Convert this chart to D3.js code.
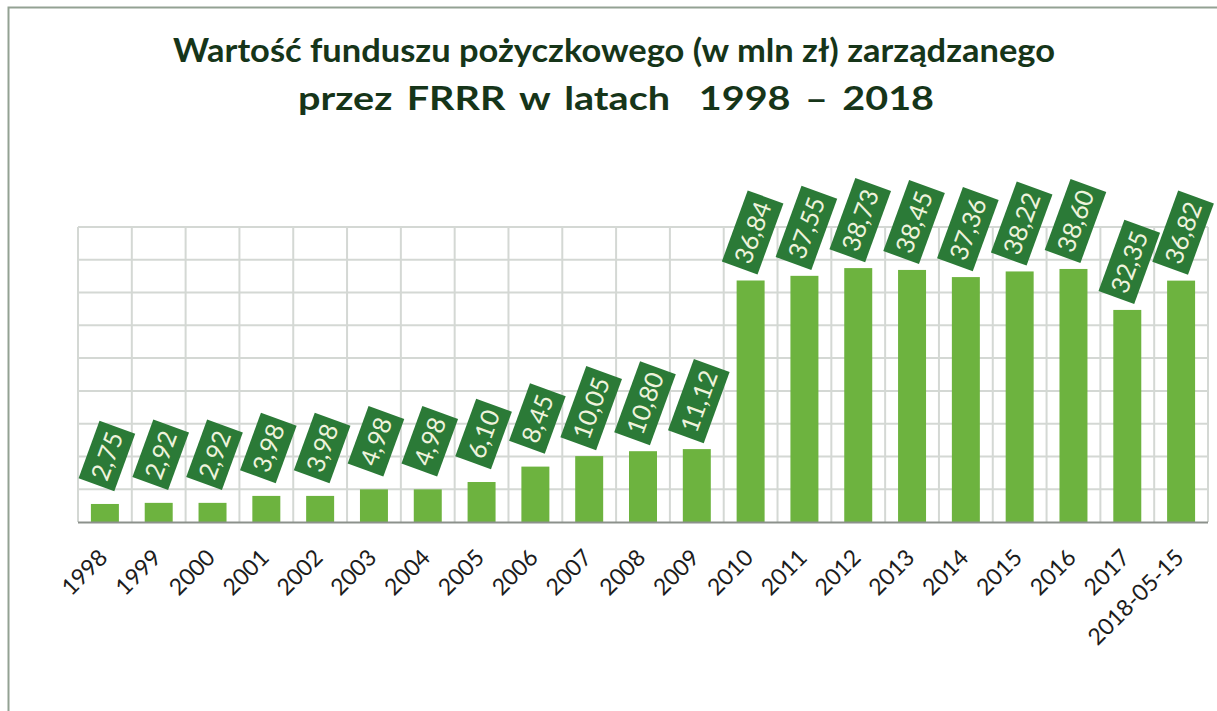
<!DOCTYPE html>
<html>
<head>
<meta charset="utf-8">
<script src="https://cdn.jsdelivr.net/npm/d3@7"></script>
<style>
  body { margin: 0; background: #fff; }
  svg { display: block; }
</style>
</head>
<body>
<svg id="chart"></svg>
<script>
// data
var categories = ["1998", "1999", "2000", "2001", "2002", "2003", "2004", "2005", "2006", "2007",
    "2008", "2009", "2010", "2011", "2012", "2013", "2014", "2015", "2016", "2017", "2018-05-15"];
var values = [2.75, 2.92, 2.92, 3.98, 3.98, 4.98, 4.98, 6.10, 8.45, 10.05,
    10.80, 11.12, 36.84, 37.55, 38.73, 38.45, 37.36, 38.22, 38.60, 32.35, 36.82];
var yTicks = [0, 5, 10, 15, 20, 25, 30, 35, 40, 45];
var titleLines = ["Wartość funduszu pożyczkowego (w mln zł) zarządzanego",
    "przez FRRR w latach  1998 – 2018"];

(function () {
    var width = 1217, height = 711;
    var plotLeft = 78, plotRight = 1208, plotTop = 227, plotBottom = 522;

    var pl = d3.formatLocale({decimal: ",", thousands: " ", grouping: [3], currency: ["", " zł"]});
    var fmt = pl.format(".2f");

    var svg = d3.select("#chart")
        .attr("width", width)
        .attr("height", height);

    // outer frame (runs off the right and bottom edge)
    svg.append("rect")
        .attr("x", 8.5).attr("y", 7.5)
        .attr("width", 1300).attr("height", 800)
        .attr("fill", "none")
        .attr("stroke", "#93a293")
        .attr("stroke-width", 2);

    // title - sized to the cap height of the original, then fitted to its line widths
    var title = svg.append("g")
        .attr("font-family", "Lato, 'Open Sans', sans-serif")
        .attr("font-weight", "bold")
        .attr("fill", "#163519")
        .attr("text-anchor", "middle")
        .style("font-size", "33px");

    title.append("text")
        .attr("x", 614).attr("y", 62)
        .attr("textLength", 882)
        .attr("lengthAdjust", "spacingAndGlyphs")
        .style("white-space", "pre")
        .text(titleLines[0]);
    title.append("text")
        .attr("x", 616).attr("y", 110)
        .attr("textLength", 636)
        .attr("lengthAdjust", "spacingAndGlyphs")
        .style("white-space", "pre")
        .style("word-spacing", "4px")
        .text(titleLines[1]);

    var x = d3.scaleBand()
        .domain(categories)
        .range([plotLeft, plotRight])
        .paddingInner(0.48)
        .paddingOuter(0.24);

    var y = d3.scaleLinear()
        .domain([0, 45])
        .range([plotBottom, plotTop]);

    var step = x.step();

    // grid
    var grid = svg.append("g").attr("stroke", "#d4d8d4").attr("stroke-width", 2);
    grid.selectAll("line.h")
        .data(yTicks.slice(1))
        .enter().append("line")
        .attr("class", "h")
        .attr("x1", plotLeft).attr("x2", plotRight)
        .attr("y1", function (d) { return y(d); })
        .attr("y2", function (d) { return y(d); });

    var bounds = categories.map(function (c) { return x(c) + x.bandwidth() / 2 - step / 2; });
    bounds.push(plotRight);
    grid.selectAll("line.v")
        .data(bounds)
        .enter().append("line")
        .attr("class", "v")
        .attr("x1", function (d) { return d; }).attr("x2", function (d) { return d; })
        .attr("y1", plotTop).attr("y2", plotBottom);

    // bars
    svg.append("g").selectAll("rect")
        .data(values)
        .enter().append("rect")
        .attr("x", function (d, i) { return x(categories[i]); })
        .attr("y", function (d) { return y(d); })
        .attr("width", x.bandwidth())
        .attr("height", function (d) { return y(0) - y(d); })
        .attr("fill", "#6db33f");

    // baseline
    svg.append("line")
        .attr("x1", plotLeft).attr("x2", plotRight)
        .attr("y1", plotBottom + 0.5).attr("y2", plotBottom + 0.5)
        .attr("stroke", "#8c918c")
        .attr("stroke-width", 2);

    // x labels
    svg.append("g").selectAll("text")
        .data(categories)
        .enter().append("text")
        .attr("transform", function (d) {
            return "translate(" + (x(d) + x.bandwidth() / 2 + 4) + "," + 559 + ") rotate(-45)";
        })
        .attr("text-anchor", "end")
        .attr("font-family", "Lato, 'Open Sans', sans-serif")
        .attr("font-size", 23)
        .attr("fill", "#1c1c1c")
        .text(function (d) { return d; });

    // rotated value labels
    var lab = svg.append("g").selectAll("g")
        .data(values)
        .enter().append("g")
        .attr("transform", function (d, i) {
            return "translate(" + (x(categories[i]) + x.bandwidth() / 2 + 2) + "," + (y(d) - 48) + ") rotate(-70)";
        });

    lab.append("rect").attr("fill", "#2b7a37");
    lab.append("text")
        .attr("text-anchor", "middle")
        .attr("dy", "0.36em")
        .attr("font-family", "Lato, 'Open Sans', sans-serif")
        .attr("font-size", 25)
        .attr("fill", "#eef3dc")
        .text(function (d) { return fmt(d); });

    lab.each(function () {
        var g = d3.select(this);
        var tw = g.select("text").node().getComputedTextLength();
        var bw = tw + 12, bh = 38;
        g.select("rect")
            .attr("x", -bw / 2).attr("y", -bh / 2)
            .attr("width", bw).attr("height", bh);
    });
})();
</script>
</body>
</html>
